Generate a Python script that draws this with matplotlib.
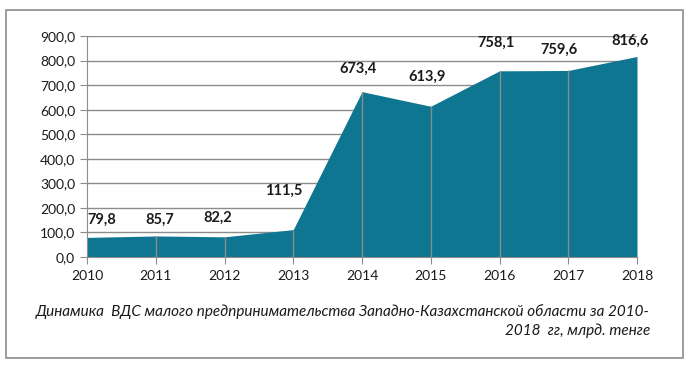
import matplotlib.pyplot as plt
from matplotlib.patches import Rectangle

plt.rcParams['font.family'] = ['Lato', 'DejaVu Sans']

years = [2010, 2011, 2012, 2013, 2014, 2015, 2016, 2017, 2018]
values = [79.8, 85.7, 82.2, 111.5, 673.4, 613.9, 758.1, 759.6, 816.6]
value_labels = ['79,8', '85,7', '82,2', '111,5', '673,4', '613,9', '758,1', '759,6', '816,6']
yticks = [0, 100, 200, 300, 400, 500, 600, 700, 800, 900]
caption = ("Динамика  ВДС малого предпринимательства Западно-Казахстанской области за 2010-\n"
           "2018  гг, млрд. тенге")

# label placement relative to the point, in pixels (right, up)
label_offsets = [(15, 18), (4, 16), (-7, 19), (-10, 39), (-4, 23),
                 (-4, 29), (-3, 28), (-9, 21), (-7, 16)]

fill_color = '#0e7690'
grid_color = '#8c8c8c'

fig = plt.figure(figsize=(6.89, 3.68), dpi=100)
fig.patches.append(Rectangle((6/689, 10/368), 677/689, 348/368, transform=fig.transFigure,
                             fill=False, edgecolor='#8c8c8c', linewidth=1.2))

ax = fig.add_axes([87/689, 111/368, 550/689, 221/368])
ax.fill_between(years, values, 0, color=fill_color, linewidth=0, zorder=2)
ax.vlines(years[1:-1], 0, values[1:-1], color=grid_color, linewidth=1, zorder=3)

for x, v, lab, (dx, dy) in zip(years, values, value_labels, label_offsets):
    ax.annotate(lab, (x, v), xytext=(dx*0.72, dy*0.72), textcoords='offset points',
                ha='center', va='center', fontsize=10.5, fontweight='bold', color='#1a1a1a')

ax.set_xlim(2010, 2018)
ax.set_ylim(0, 900)
ax.set_xticks(years)
ax.set_yticks(yticks)
ax.set_yticklabels([f"{t:.1f}".replace('.', ',') for t in yticks])
ax.yaxis.grid(True, color=grid_color, linewidth=1)
ax.set_axisbelow(True)
for s in ['top', 'right']:
    ax.spines[s].set_visible(False)
ax.spines['left'].set_color(grid_color)
ax.spines['bottom'].set_color(grid_color)
ax.spines['bottom'].set_zorder(4)
ax.tick_params(axis='both', colors=grid_color, labelcolor='#1a1a1a', labelsize=10, length=5)
ax.tick_params(axis='x', pad=4)

fig.text(650/689, 1 - 321/368, caption, ha='right', va='center', fontsize=11,
         style='italic', color='#1a1a1a', linespacing=1.45)

fig.savefig('out.png', dpi=100)
